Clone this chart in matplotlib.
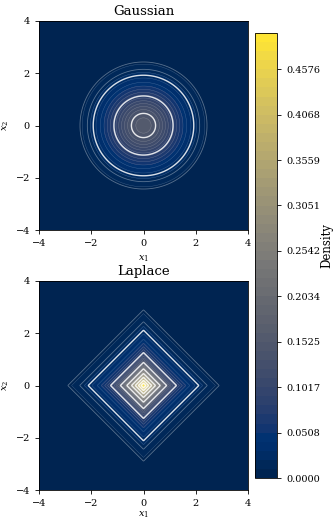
import numpy as np
import matplotlib
matplotlib.use("Agg")
import matplotlib.pyplot as plt

plt.rcParams['font.family'] = 'DejaVu Serif'
plt.rcParams['mathtext.fontset'] = 'dejavuserif'

# grid and distribution parameters
grid_limits = [-4, 4]
grid_points = 400
laplace_scale = 1 / np.sqrt(2)
titles = ["Gaussian", "Laplace"]

# shared colour scale
density_max = 0.4982
n_fill_levels = 50
cbar_ticks = [0.0000, 0.0508, 0.1017, 0.1525, 0.2034, 0.2542, 0.3051, 0.3559, 0.4068, 0.4576]

# white contour lines
faint_levels = [0.0083, 0.0158]
bright_levels = [0.025, 0.084, 0.143, 0.202, 0.261, 0.320, 0.379, 0.438]

x = np.linspace(grid_limits[0], grid_limits[1], grid_points)
X1, X2 = np.meshgrid(x, x)
gauss = np.exp(-(X1**2 + X2**2) / 2) / (2 * np.pi)
laplace = np.exp(-(np.abs(X1) + np.abs(X2)) / laplace_scale) / (2 * laplace_scale) ** 2

fill_levels = np.linspace(0, density_max, n_fill_levels)

fig = plt.figure(figsize=(3.33, 5.19), dpi=100)
ax1 = fig.add_axes([39 / 333, 1 - 230 / 519, 209 / 333, 209 / 519])
ax2 = fig.add_axes([39 / 333, 1 - 490 / 519, 209 / 333, 209 / 519])
cax = fig.add_axes([255 / 333, 1 - 478 / 519, 22 / 333, 445 / 519])

for ax, Z, title, xpad in zip([ax1, ax2], [gauss, laplace], titles, [4, 1]):
    cf = ax.contourf(X1, X2, Z, levels=fill_levels, cmap='cividis')
    ax.contour(X1, X2, Z, levels=fill_levels[1:], colors='white', linewidths=0.3, alpha=0.25)
    ax.contour(X1, X2, Z, levels=faint_levels, colors='white', linewidths=0.6, alpha=0.35)
    ax.contour(X1, X2, Z, levels=bright_levels, colors='white', linewidths=1.0, alpha=0.85)
    ax.set_xlim(grid_limits)
    ax.set_ylim(grid_limits)
    ax.set_xticks([-4, -2, 0, 2, 4])
    ax.set_yticks([-4, -2, 0, 2, 4])
    ax.tick_params(labelsize=7, length=3, width=0.6)
    ax.set_title(title, fontsize=9.5, pad=4)
    ax.set_xlabel(r'$x_1$', fontsize=7, labelpad=xpad)
    ax.set_ylabel(r'$x_2$', fontsize=7, labelpad=3)
    for s in ax.spines.values():
        s.set_linewidth(0.6)

cb = fig.colorbar(cf, cax=cax, ticks=cbar_ticks)
cb.ax.set_yticklabels([f"{t:.4f}" for t in cbar_ticks])
cb.ax.tick_params(labelsize=7, length=3, width=0.6)
cb.outline.set_linewidth(0.6)
fig.text(327 / 333, 1 - 246 / 519, 'Density', rotation=90, fontsize=8.5,
         ha='center', va='center')

fig.savefig('out.png', dpi=100)
